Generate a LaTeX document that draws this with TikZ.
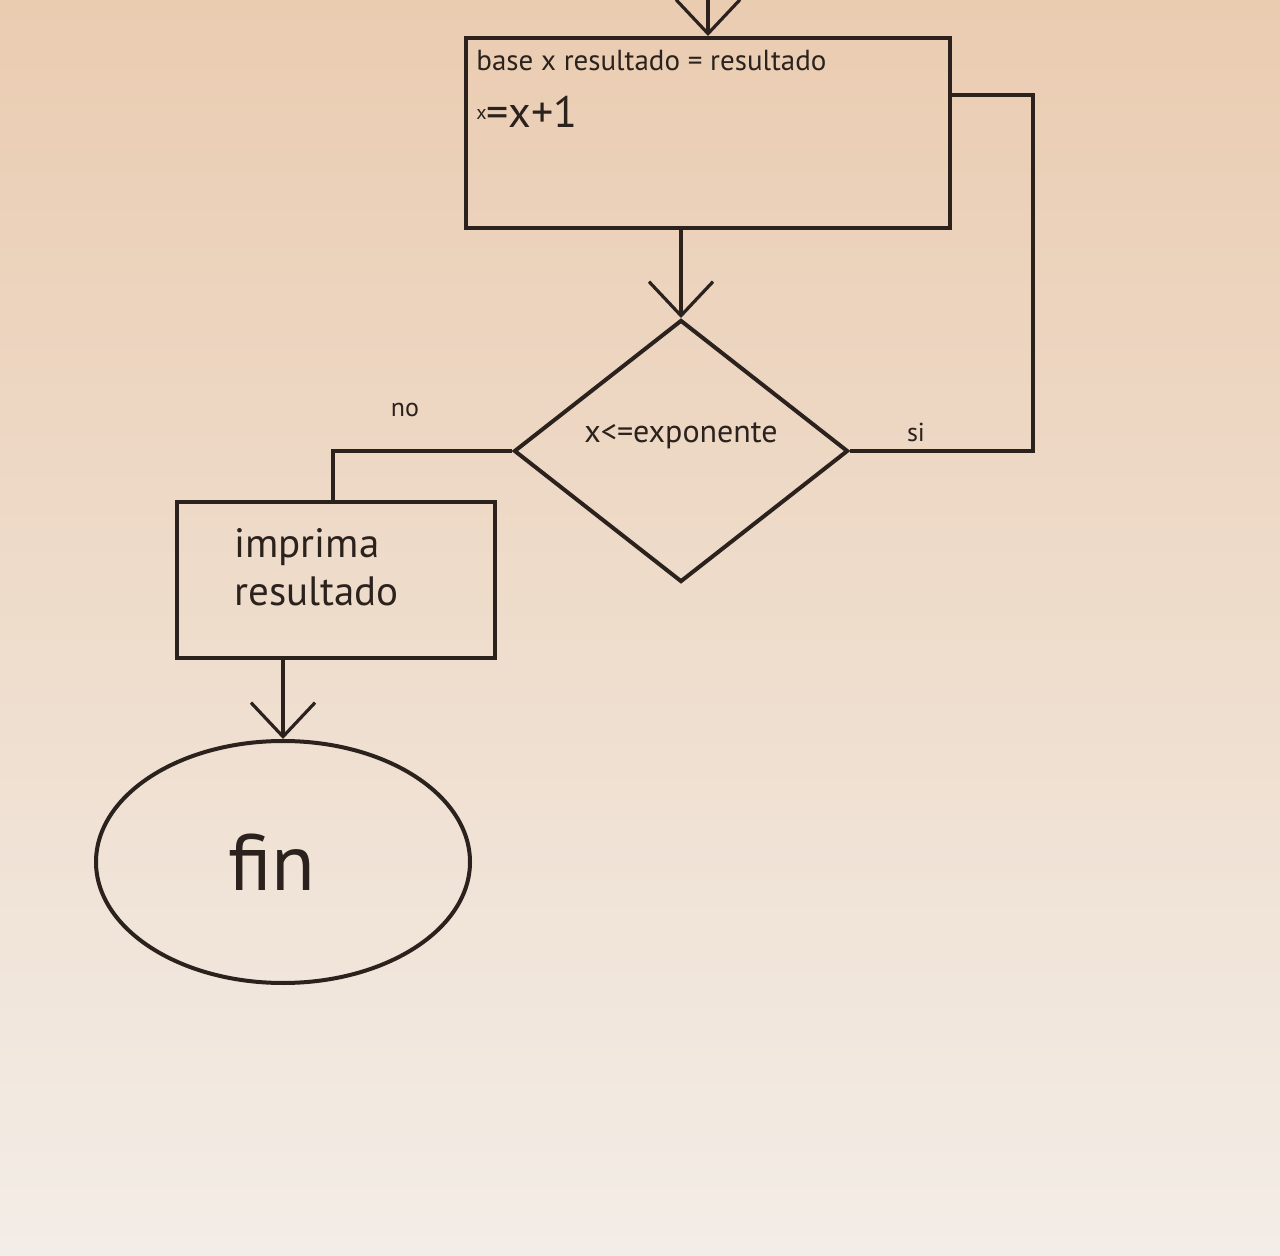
\documentclass[tikz,border=0pt]{standalone}
\usepackage{fontspec}
\setmainfont{PT Sans}
\usepackage{tikz}
\usetikzlibrary{shapes.geometric, arrows.meta}

\definecolor{paper}{RGB}{234,204,177}
\definecolor{paperlow}{RGB}{243,237,231}
\definecolor{ink}{RGB}{43,34,30}

\tikzset{
  line/.style={draw=ink, line width=2pt},
  flow/.style={line, -{Straight Barb[length=17pt,width=32pt,line width=1.6pt]}},
  procbox/.style={line, rectangle, inner sep=0pt},
  decision/.style={line, diamond, inner sep=0pt, minimum width=167pt, minimum height=131pt},
  terminal/.style={line, ellipse, inner sep=0pt, minimum width=187pt, minimum height=121pt},
  txt/.style={text=ink, inner sep=0pt}
}

\begin{document}
\begin{tikzpicture}[x=0.5pt,y=0.5pt,yscale=-1]
\useasboundingbox (0,0) rectangle (1280,1256);
% background of the photo
\fill[top color=paper, bottom color=paperlow] (0,0) rectangle (1280,1256);

% Shape: Rectangle (loop body)
\node[procbox, minimum width=242pt, minimum height=95pt] (cuerpo) at (708,133) {};
\node[txt, anchor=north west, font=\fontsize{14.5}{16}\selectfont] (linea1) at (476,50) {base x resultado = resultado};
\node[txt, anchor=north west, font=\fontsize{22}{24}\selectfont] (linea2) at (476,96) {\raisebox{4pt}{\fontsize{10}{12}\selectfont x}=x+1};

% Shape: Diamond
\node[decision] (cond) at (681,451) {};
\node[txt, font=\fontsize{16}{18}\selectfont] (condtxt) at (681,436) {x<=exponente};

% Shape: Rectangle (output)
\node[procbox, minimum width=159pt, minimum height=78pt] (imprime) at (336,580) {};
\node[txt, anchor=north west, align=left, font=\fontsize{20.5}{24}\selectfont] (imptxt) at (234,528) {imprima\\resultado};

% Shape: Ellipse
\node[terminal] (fin) at (283,862) {};
\node[txt, font=\fontsize{40}{44}\selectfont] (fintxt) at (272,862) {fin};

% Text Node
\node[txt, font=\fontsize{13}{15}\selectfont] (no) at (405,410) {no};
% Text Node
\node[txt, font=\fontsize{13}{15}\selectfont] (si) at (916,432) {si};

% Connectors
\coordinate (entrada) at (708,-30);
\coordinate (retorno) at (950,95);
\draw[flow] (entrada) -- (cuerpo.north);
\draw[flow] (cuerpo.south -| cond.north) -- (cond.north);
\draw[line] (cond.east) -- (1033,451) |- (retorno);
\draw[line] (cond.west) -| (imprime.north -| 333,0);
\draw[flow] (imprime.south -| fin.north) -- (fin.north);
\end{tikzpicture}
\end{document}
